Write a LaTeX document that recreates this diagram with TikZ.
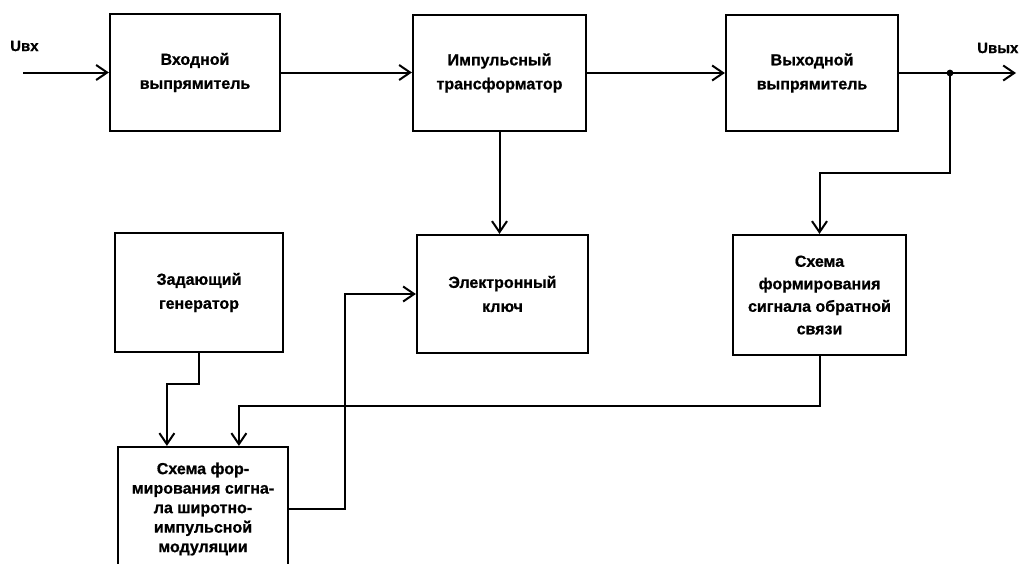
\documentclass[tikz,border=0pt]{standalone}
\usepackage{fontspec}
\setmainfont{Liberation Sans}[BoldFeatures={FakeBold=0.8}]
\usetikzlibrary{arrows.meta,calc}
\tikzset{
  blk/.style={draw, line width=2.2pt, inner sep=0pt, align=center,
    font=\bfseries\fontsize{16}{24}\selectfont},
  arr/.style={line width=2pt, -{Straight Barb[length=11pt,width=15pt,line width=2pt]}},
  ln/.style={line width=2pt},
  lbl/.style={font=\bfseries\fontsize{15}{18}\selectfont, inner sep=0pt, anchor=west}
}
\begin{document}
\begin{tikzpicture}[x=1pt,y=-1pt]
\clip (0,0) rectangle (1025,563);
\fill[white] (0,0) rectangle (1025,563);
% blocks
\node[blk, minimum width=170pt, minimum height=117pt] (b1) at (195,72.5) {Входной\\выпрямитель};
\node[blk, minimum width=173pt, minimum height=116pt] (b2) at (499.5,73) {Импульсный\\трансформатор};
\node[blk, minimum width=172pt, minimum height=116pt] (b3) at (812,73) {Выходной\\выпрямитель};
\node[blk, minimum width=171pt, minimum height=118pt] (key) at (502.5,294) {Электронный\\ключ};
\node[blk, minimum width=168pt, minimum height=119pt] (gen) at (199,292.5) {Задающий\\генератор};
\node[blk, minimum width=173pt, minimum height=120pt, font=\bfseries\fontsize{16}{22.5}\selectfont] (fb) at (819.5,295) {Схема\\формирования\\сигнала обратной\\связи};
\node[blk, minimum width=170pt, minimum height=124pt, font=\bfseries\fontsize{16}{19.5}\selectfont] (pwm) at (203,509) {Схема фор-\\мирования сигна-\\ла широтно-\\импульсной\\модуляции};
% labels
\node[lbl] (uin) at (10,46) {Uвх};
\node[lbl] (uout) at (977,48) {Uвых};
% coordinates
\coordinate (in) at (23,72.5);
\coordinate (j) at (950,73);
\coordinate (out) at (1016,73);
\coordinate (c1) at (950,173);
\coordinate (c2) at (345,294);
\coordinate (p1) at ($(pwm.north west)+(50,0)$);
\coordinate (p2) at ($(pwm.north west)+(122,0)$);
% connectors
\draw[arr] (in) -- (b1.west);
\draw[arr] (b1.east) -- (b1.east -| b2.west);
\draw[arr] (b2.east) -- (b3.west);
\draw[ln] (b3.east) -- (j);
\draw[arr] (j) -- (out);
\fill (j) circle (3.4);
\draw[arr] (j) -- (c1) -| (fb.north);
\draw[arr] (b2.south) -- (b2.south |- key.north);
\draw[arr] (gen.south) -- ++(0,31) -| (p1);
\draw[arr] (fb.south) -- ++(0,50) -| (p2);
\draw[arr] (pwm.east) -| (c2) -- (key.west);
\end{tikzpicture}
\end{document}
